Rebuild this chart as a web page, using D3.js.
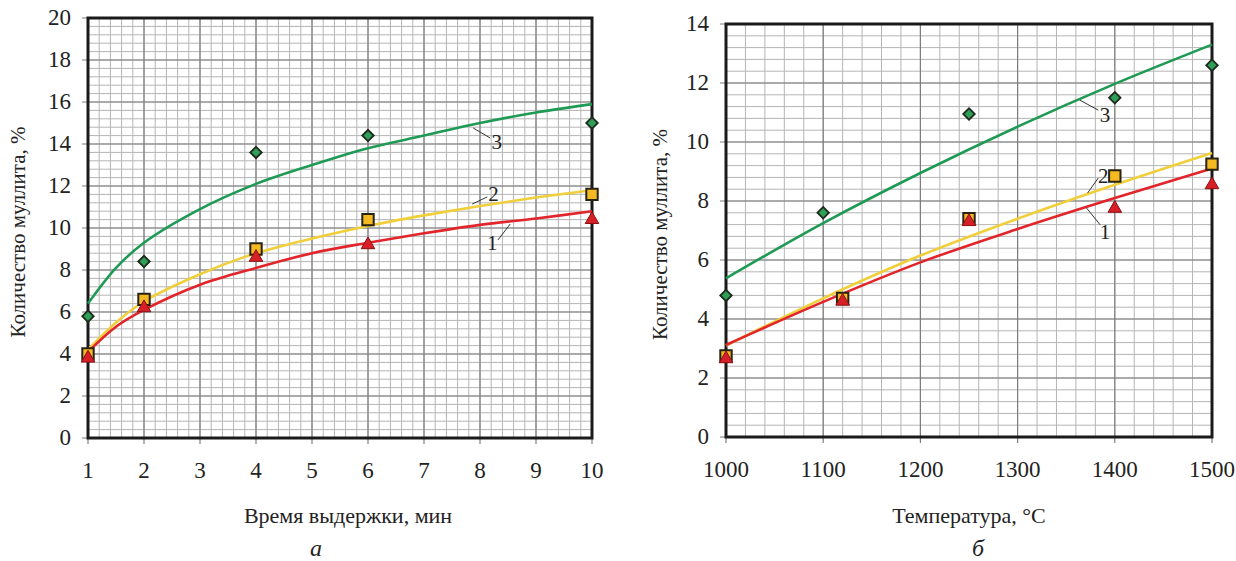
<!DOCTYPE html>
<html>
<head>
<meta charset="utf-8">
<script src="https://cdn.jsdelivr.net/npm/d3@7"></script>
<style>
  body { margin: 0; background: #fff; }
  svg { display: block; }
</style>
</head>
<body>
<svg id="chart" width="1236" height="561"></svg>
<script>
// panel a: holding time, min
var timeX = [1, 2, 4, 6, 10];
var time3 = [5.8, 8.4, 13.6, 14.4, 15.0];
var time2 = [4.0, 6.6, 9.0, 10.4, 11.6];
var time1 = [3.8, 6.2, 8.6, 9.2, 10.4];
var timeFitX = [1, 1.5, 2, 3, 4, 5, 6, 7, 8, 9, 10];
var timeFit3 = [6.4, 8.1, 9.3, 10.9, 12.1, 13.0, 13.8, 14.4, 15.0, 15.5, 15.9];
var timeFit2 = [4.2, 5.5, 6.5, 7.8, 8.8, 9.5, 10.1, 10.6, 11.05, 11.45, 11.8];
var timeFit1 = [4.1, 5.3, 6.1, 7.3, 8.1, 8.8, 9.3, 9.75, 10.15, 10.45, 10.8];
var timeTicksX = [1, 2, 3, 4, 5, 6, 7, 8, 9, 10];
var timeTicksY = [0, 2, 4, 6, 8, 10, 12, 14, 16, 18, 20];

// panel b: temperature, C
var tempX3 = [1000, 1100, 1250, 1400, 1500];
var temp3 = [4.8, 7.6, 10.95, 11.5, 12.6];
var tempX12 = [1000, 1120, 1250, 1400, 1500];
var temp2 = [2.75, 4.7, 7.4, 8.85, 9.25];
var temp1 = [2.65, 4.6, 7.3, 7.75, 8.55];
var tempFitX = [1000, 1100, 1200, 1300, 1400, 1500];
var tempFit3 = [5.38, 7.25, 8.95, 10.52, 11.97, 13.3];
var tempFit2 = [3.1, 4.7, 6.15, 7.4, 8.55, 9.63];
var tempFit1 = [3.12, 4.58, 5.92, 7.05, 8.1, 9.1];
var tempTicksX = [1000, 1100, 1200, 1300, 1400, 1500];
var tempTicksY = [0, 2, 4, 6, 8, 10, 12, 14];

var yTitle = "Количество муллита, %";
var serif = "'Liberation Serif'";

var svg = d3.select("#chart");

var col = {
  green: "#1f9a55", greenFill: "#2f9e57",
  yellow: "#f0cf3a", yellowFill: "#f5b921",
  red: "#e2252a", redFill: "#d61f26"
};

function zip(xs, ys) {
  return xs.map(function(d, i) { return [d, ys[i]]; });
}

function label(g) {
  return g.append("text")
    .attr("font-family", serif)
    .attr("fill", "#222");
}

function drawPanel(p) {
  var x = d3.scaleLinear().domain(p.xDomain).range([p.left, p.right]);
  var y = d3.scaleLinear().domain(p.yDomain).range([p.bottom, p.top]);
  var g = svg.append("g");

  // minor grid
  g.selectAll(".mx").data(d3.range(p.xDomain[0], p.xDomain[1] + 1e-9, p.xMinor)).enter()
    .append("line")
    .attr("x1", function(d) { return x(d); }).attr("x2", function(d) { return x(d); })
    .attr("y1", p.top).attr("y2", p.bottom)
    .attr("stroke", "#b5b5b5").attr("stroke-width", 1);
  g.selectAll(".my").data(d3.range(p.yDomain[0], p.yDomain[1] + 1e-9, p.yMinor)).enter()
    .append("line")
    .attr("y1", function(d) { return y(d); }).attr("y2", function(d) { return y(d); })
    .attr("x1", p.left).attr("x2", p.right)
    .attr("stroke", "#b5b5b5").attr("stroke-width", 1);
  // major grid
  g.selectAll(".Mx").data(p.xTicks).enter().append("line")
    .attr("x1", function(d) { return x(d); }).attr("x2", function(d) { return x(d); })
    .attr("y1", p.top).attr("y2", p.bottom + 6)
    .attr("stroke", "#7d7d7d").attr("stroke-width", 1.2);
  g.selectAll(".My").data(p.yTicks).enter().append("line")
    .attr("y1", function(d) { return y(d); }).attr("y2", function(d) { return y(d); })
    .attr("x1", p.left - 6).attr("x2", p.right)
    .attr("stroke", "#7d7d7d").attr("stroke-width", 1.2);

  // frame
  g.append("rect")
    .attr("x", p.left).attr("y", p.top)
    .attr("width", p.right - p.left).attr("height", p.bottom - p.top)
    .attr("fill", "none").attr("stroke", "#1a1a1a").attr("stroke-width", 3);

  // tick labels
  p.xTicks.forEach(function(d) {
    label(g).attr("x", x(d)).attr("y", p.bottom + 40)
      .attr("text-anchor", "middle").attr("font-size", "23px").text(d);
  });
  p.yTicks.forEach(function(d) {
    label(g).attr("x", p.left - 17).attr("y", y(d) + 7)
      .attr("text-anchor", "end").attr("font-size", "23px").text(d);
  });

  // axis titles
  label(g)
    .attr("transform", "translate(" + p.yTitleX + "," + ((p.top + p.bottom) / 2 + 4) + ") rotate(-90)")
    .attr("text-anchor", "middle")
    .attr("font-size", "21px")
    .text(yTitle);
  label(g)
    .attr("x", p.xTitleX).attr("y", 523)
    .attr("text-anchor", "middle")
    .attr("font-size", "22px")
    .text(p.xTitle);
  label(g)
    .attr("x", p.capX).attr("y", 556)
    .attr("text-anchor", "middle")
    .attr("font-size", "24px")
    .attr("font-style", "italic")
    .text(p.caption);

  // trend lines
  var line = d3.line()
    .x(function(d) { return x(d[0]); })
    .y(function(d) { return y(d[1]); })
    .curve(d3.curveCatmullRom.alpha(0.5));
  p.fits.forEach(function(f) {
    g.append("path")
      .attr("d", line(zip(p.fitX, f.values)))
      .attr("fill", "none")
      .attr("stroke", f.color)
      .attr("stroke-width", 2.6);
  });

  // curve number labels with leaders
  p.notes.forEach(function(n) {
    g.append("line")
      .attr("x1", x(n.from[0])).attr("y1", y(n.from[1]))
      .attr("x2", x(n.to[0])).attr("y2", y(n.to[1]))
      .attr("stroke", "#333").attr("stroke-width", 1);
    label(g)
      .attr("x", x(n.at[0])).attr("y", y(n.at[1]) + 7)
      .attr("text-anchor", "middle")
      .attr("font-size", "21px")
      .text(n.label);
  });

  // markers
  p.markers.forEach(function(m) {
    g.selectAll(null).data(zip(m.xs, m.ys)).enter().append("path")
      .attr("d", d3.symbol().type(m.type).size(m.size)())
      .attr("transform", function(d) {
        return "translate(" + x(d[0]) + "," + y(d[1]) + ")" + (m.rotate ? " rotate(45)" : "");
      })
      .attr("fill", m.fill)
      .attr("stroke", m.stroke)
      .attr("stroke-width", m.sw);
  });
}

drawPanel({
  left: 88, right: 592, top: 18, bottom: 438,
  xDomain: [1, 10], yDomain: [0, 20], xMinor: 0.2, yMinor: 0.4,
  xTicks: timeTicksX, yTicks: timeTicksY,
  yTitleX: 25, xTitleX: 348, xTitle: "Время выдержки, мин", capX: 316, caption: "а",
  fitX: timeFitX,
  fits: [
    { values: timeFit3, color: col.green },
    { values: timeFit2, color: col.yellow },
    { values: timeFit1, color: col.red }
  ],
  notes: [
    { label: "3", from: [7.88, 14.76], to: [8.18, 14.29], at: [8.3, 14.1] },
    { label: "2", from: [7.86, 11.14], to: [8.13, 11.48], at: [8.24, 11.6] },
    { label: "1", from: [8.54, 10.19], to: [8.32, 9.43], at: [8.22, 9.3] }
  ],
  markers: [
    { xs: timeX, ys: time3, type: d3.symbolSquare, size: 66, rotate: true, fill: col.greenFill, stroke: "#1d2a1d", sw: 1.8 },
    { xs: timeX, ys: time2, type: d3.symbolSquare, size: 130, fill: col.yellowFill, stroke: "#2a2211", sw: 2 },
    { xs: timeX, ys: time1, type: d3.symbolTriangle, size: 80, fill: col.redFill, stroke: "#8a1010", sw: 1 }
  ]
});

drawPanel({
  left: 726, right: 1212, top: 24, bottom: 437,
  xDomain: [1000, 1500], yDomain: [0, 14], xMinor: 20, yMinor: 0.4,
  xTicks: tempTicksX, yTicks: tempTicksY,
  yTitleX: 667, xTitleX: 969, xTitle: "Температура, °С", capX: 978, caption: "б",
  fitX: tempFitX,
  fits: [
    { values: tempFit3, color: col.green },
    { values: tempFit2, color: col.yellow },
    { values: tempFit1, color: col.red }
  ],
  notes: [
    { label: "3", from: [1364, 11.42], to: [1383, 11.08], at: [1390, 10.9] },
    { label: "2", from: [1372, 8.27], to: [1383, 8.78], at: [1388, 8.85] },
    { label: "1", from: [1371, 7.76], to: [1385, 7.19], at: [1390, 6.95] }
  ],
  markers: [
    { xs: tempX3, ys: temp3, type: d3.symbolSquare, size: 66, rotate: true, fill: col.greenFill, stroke: "#1d2a1d", sw: 1.8 },
    { xs: tempX12, ys: temp2, type: d3.symbolSquare, size: 130, fill: col.yellowFill, stroke: "#2a2211", sw: 2 },
    { xs: tempX12, ys: temp1, type: d3.symbolTriangle, size: 80, fill: col.redFill, stroke: "#8a1010", sw: 1 }
  ]
});
</script>
</body>
</html>
